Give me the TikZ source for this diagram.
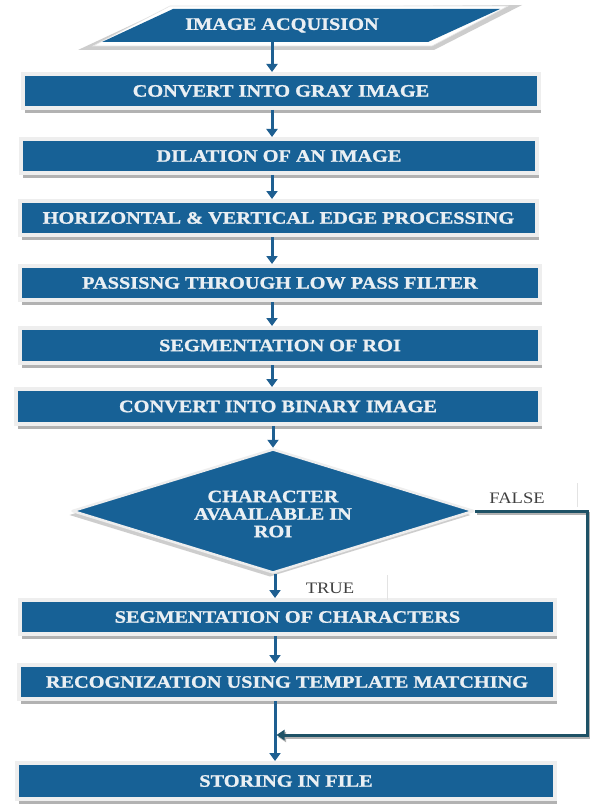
\documentclass[tikz,border=0pt]{standalone}
\usepackage{fontspec}
\setmainfont{Liberation Serif}[FakeStretch=1.16, BoldFeatures={FakeBold=1.2}]
\usetikzlibrary{shapes.geometric,arrows.meta,shadows}
\definecolor{boxblue}{RGB}{23,97,150}
\definecolor{arrblue}{RGB}{30,95,145}
\definecolor{falsecol}{RGB}{30,82,102}
\definecolor{txtcol}{RGB}{234,239,243}
\definecolor{framecol}{RGB}{238,238,238}
\definecolor{shadowcol}{RGB}{178,178,178}
\definecolor{pshadow}{RGB}{205,205,205}
\begin{document}
\begin{tikzpicture}[x=1pt,y=-1pt,
  txt/.style={inner sep=0pt, text=txtcol, font=\fontsize{17.5}{17.5}\selectfont\bfseries},
  procbox/.style={txt, rectangle, fill=boxblue, draw=framecol, line width=4pt,
    general shadow={fill=shadowcol, shadow xshift=2pt, shadow yshift=-5pt}},
  decision/.style={txt, diamond, aspect=3.28, align=center, fill=boxblue, draw=framecol,
    line width=2.5pt, line join=round, minimum width=402pt, minimum height=124pt,
    general shadow={fill=pshadow, shadow xshift=-3pt, shadow yshift=-4pt}},
  flowarr/.style={draw=arrblue, line width=3pt, -{Triangle[width=11pt,length=8pt]}},
  falsearr/.style={draw=falsecol, line width=3pt, -{Triangle[width=10pt,length=8pt]},
    preaction={draw=shadowcol, line width=3pt, transform canvas={shift={(1.5pt,-2pt)}}}},
  lbl/.style={inner sep=0pt, text=black!75, font=\fontsize{16}{16}\selectfont}
]
\useasboundingbox (0,0) rectangle (592,805);
\fill[white] (0,0) rectangle (592,805);

% parallelogram (input)
\fill[pshadow] (78,50) -- (168,8) -- (522,5) -- (434,50) -- cycle;
\filldraw[fill=white, draw=gray!20, line width=0.6pt] (93,46) -- (170,6) -- (508,6) -- (432,46) -- cycle;
\fill[boxblue] (102,42) -- (173,9) -- (500,9) -- (428,42) -- cycle;
\node[txt, minimum height=33pt] (p0) at (282,25.5) {IMAGE ACQUISION};

% process boxes
\node[procbox, minimum width=516pt, minimum height=34pt] (n1) at (281,91) {CONVERT INTO GRAY IMAGE};
\node[procbox, minimum width=516pt, minimum height=34pt] (n2) at (279,156) {DILATION OF AN IMAGE};
\node[procbox, minimum width=517pt, minimum height=34pt] (n3) at (278.5,218) {HORIZONTAL \& VERTICAL EDGE PROCESSING};
\node[procbox, minimum width=520pt, minimum height=34pt] (n4) at (280,283) {PASSISNG THROUGH LOW PASS FILTER};
\node[procbox, minimum width=520pt, minimum height=35pt] (n5) at (280,345.5) {SEGMENTATION OF ROI};
\node[procbox, minimum width=524pt, minimum height=35pt] (n6) at (278,406.5) {CONVERT INTO BINARY IMAGE};
\node[decision] (dia) at (273,511) {};
\node[txt, align=center] (diat) at (273,514) {CHARACTER\\AVAAILABLE IN\\ROI};
\node[procbox, minimum width=535pt, minimum height=34pt] (n8) at (287.5,617) {SEGMENTATION OF CHARACTERS};
\node[procbox, minimum width=536pt, minimum height=34pt] (n9) at (287,682) {RECOGNIZATION USING TEMPLATE MATCHING};
\node[procbox, minimum width=538pt, minimum height=36pt] (n10) at (286,781) {STORING IN FILE};

% labels
\node[lbl] (lf) at (517,498) {FALSE};
\node[lbl] (lt) at (330,588) {TRUE};
\draw[gray!22, line width=0.6pt] (577,483) -- (577,507);
\draw[gray!22, line width=0.6pt] (387,575) -- (387,600);

% connectors
\coordinate (ax) at (272,0);
\coordinate (bx) at (275,0);
\draw[flowarr] (p0.south -| ax) -- (n1.north -| ax);
\draw[flowarr] (n1.south -| ax) -- (n2.north -| ax);
\draw[flowarr] (n2.south -| ax) -- (n3.north -| ax);
\draw[flowarr] (n3.south -| ax) -- (n4.north -| ax);
\draw[flowarr] (n4.south -| ax) -- (n5.north -| ax);
\draw[flowarr] (n5.south -| ax) -- (n6.north -| ax);
\draw[flowarr] (n6.south -| dia.north) -- (dia.north);
\draw[flowarr] (dia.south -| bx) -- (n8.north -| bx);
\draw[flowarr] (n8.south -| bx) -- (n9.north -| bx);
\draw[flowarr] (n9.south -| bx) -- (n10.north -| bx);
\coordinate (rx) at (587,735);
\coordinate (jn) at (276.5,735);
\draw[falsearr] (dia.east) -| (rx) -- (jn);
\end{tikzpicture}
\end{document}
